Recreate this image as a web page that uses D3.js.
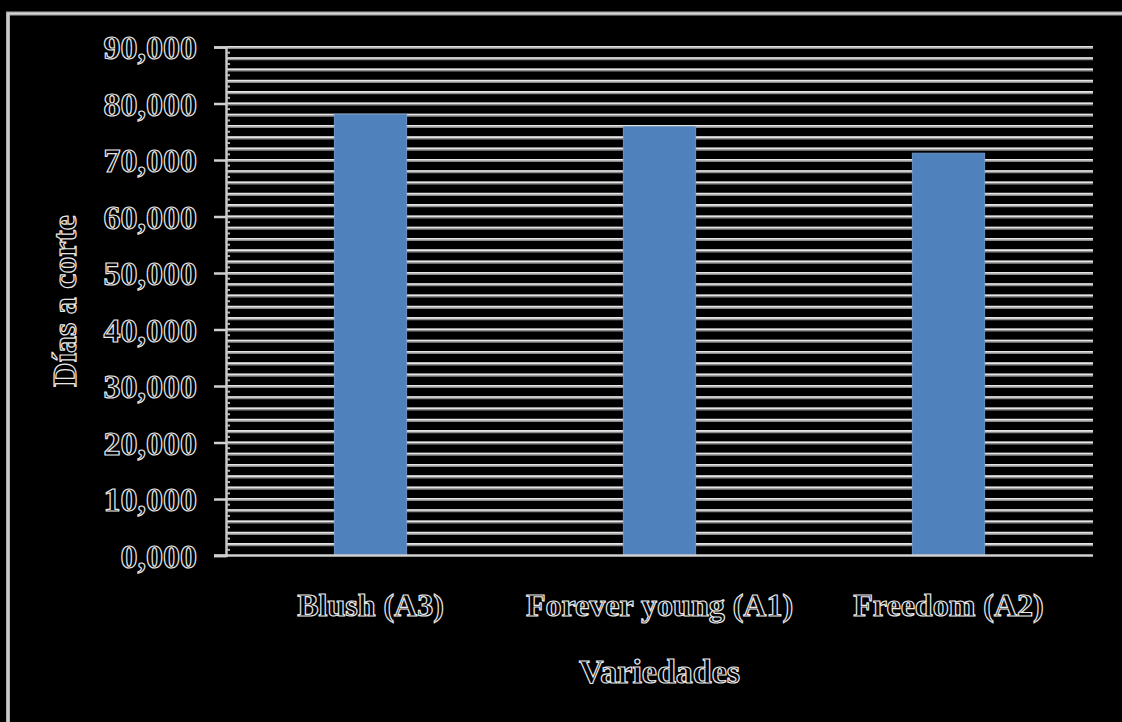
<!DOCTYPE html>
<html>
<head>
<meta charset="utf-8">
<script src="https://cdn.jsdelivr.net/npm/d3@7"></script>
<style>
  html, body { margin: 0; padding: 0; background: #000; }
  svg { display: block; }
  .lbl { font-family: "Liberation Serif", "Times New Roman", serif; font-weight: bold; fill: #000; stroke: #e8e8e8; stroke-width: 1.2px; }
</style>
</head>
<body>
<svg id="chart" width="1122" height="722"></svg>
<script>
// Días a corte por variedad
const categories = ["Blush (A3)", "Forever young (A1)", "Freedom (A2)"];
const values = [78.1, 75.9, 71.2];
const yTicks = [0, 10, 20, 30, 40, 50, 60, 70, 80, 90];
const yTitle = "Días a corte";
const xTitle = "Variedades";

const W = 1122, H = 722;
const plot = { left: 226, right: 1093, top: 47, bottom: 555.5 };

const svg = d3.select("#chart");
svg.append("rect").attr("width", W).attr("height", H).attr("fill", "#000");

// outer frame (top and left edges visible)
svg.append("rect")
  .attr("x", 8).attr("y", 13.5).attr("width", W + 20).attr("height", H + 20)
  .attr("fill", "none").attr("stroke", "#a8a8a8").attr("stroke-width", 4);
svg.append("rect")
  .attr("x", 8).attr("y", 13.5).attr("width", W + 20).attr("height", H + 20)
  .attr("fill", "none").attr("stroke", "#d8d8d8").attr("stroke-width", 1.5);

const esLocale = d3.formatLocale({ decimal: ",", thousands: ".", grouping: [3], currency: ["", ""] });
const fmt = esLocale.format(".3f");

const y = d3.scaleLinear().domain([0, 90]).range([plot.bottom, plot.top]);
const x = d3.scaleBand().domain(categories).range([plot.left, plot.right])
  .paddingInner(0.75).paddingOuter(0.375);

// gridlines every 2 units
const gridVals = d3.range(2, 90.001, 2);
const grid = svg.append("g");
grid.selectAll("line.g1").data(gridVals).join("line")
  .attr("x1", plot.left).attr("x2", plot.right)
  .attr("y1", d => y(d) + 0.5).attr("y2", d => y(d) + 0.5)
  .attr("stroke", "#8a8a8a").attr("stroke-width", 3);
grid.selectAll("line.g2").data(gridVals).join("line")
  .attr("x1", plot.left).attr("x2", plot.right)
  .attr("y1", d => y(d) - 0.3).attr("y2", d => y(d) - 0.3)
  .attr("stroke", "#e4e4e4").attr("stroke-width", 1.6);

// bars
svg.append("g").selectAll("rect").data(values).join("rect")
  .attr("x", (d, i) => x(categories[i]))
  .attr("width", x.bandwidth())
  .attr("y", d => y(d))
  .attr("height", d => y(0) - y(d))
  .attr("fill", "#4f81bd")
  .attr("stroke", "#6b96c8").attr("stroke-width", 1);

// y axis
const yAxis = d3.axisLeft(y).tickValues(yTicks).tickFormat(fmt).tickSize(12).tickPadding(17);
const gy = svg.append("g").attr("transform", `translate(${plot.left},0)`).call(yAxis);
gy.select(".domain").attr("stroke", "#c8c8c8").attr("stroke-width", 2.5);
gy.selectAll(".tick line").attr("stroke", "#d0d0d0").attr("stroke-width", 2.5);
gy.selectAll(".tick text").attr("class", "lbl").attr("font-size", 34).attr("dy", "0.34em");

// minor ticks inside the axis
svg.append("g").selectAll("line").data(d3.range(1, 90, 2)).join("line")
  .attr("x1", plot.left + 1).attr("x2", plot.left + 4)
  .attr("y1", d => y(d)).attr("y2", d => y(d))
  .attr("stroke", "#bbbbbb").attr("stroke-width", 2);

// x axis
const xAxis = d3.axisBottom(x).tickSize(0).tickPadding(60);
const gx = svg.append("g").attr("transform", `translate(0,${plot.bottom})`).call(xAxis);
gx.select(".domain").remove();
svg.append("line")
  .attr("x1", plot.left - 12).attr("x2", plot.right)
  .attr("y1", plot.bottom).attr("y2", plot.bottom)
  .attr("stroke", "#d0d0d0").attr("stroke-width", 2.5);
gx.selectAll(".tick text").attr("class", "lbl").attr("font-size", 32).attr("dy", "0");

// axis titles
svg.append("text").attr("class", "lbl")
  .attr("font-size", 34).attr("text-anchor", "middle")
  .attr("transform", `translate(76,301) rotate(-90)`)
  .text(yTitle);
svg.append("text").attr("class", "lbl")
  .attr("font-size", 34).attr("text-anchor", "middle")
  .attr("x", (plot.left + plot.right) / 2 + 0).attr("y", 683)
  .text(xTitle);
</script>
</body>
</html>
